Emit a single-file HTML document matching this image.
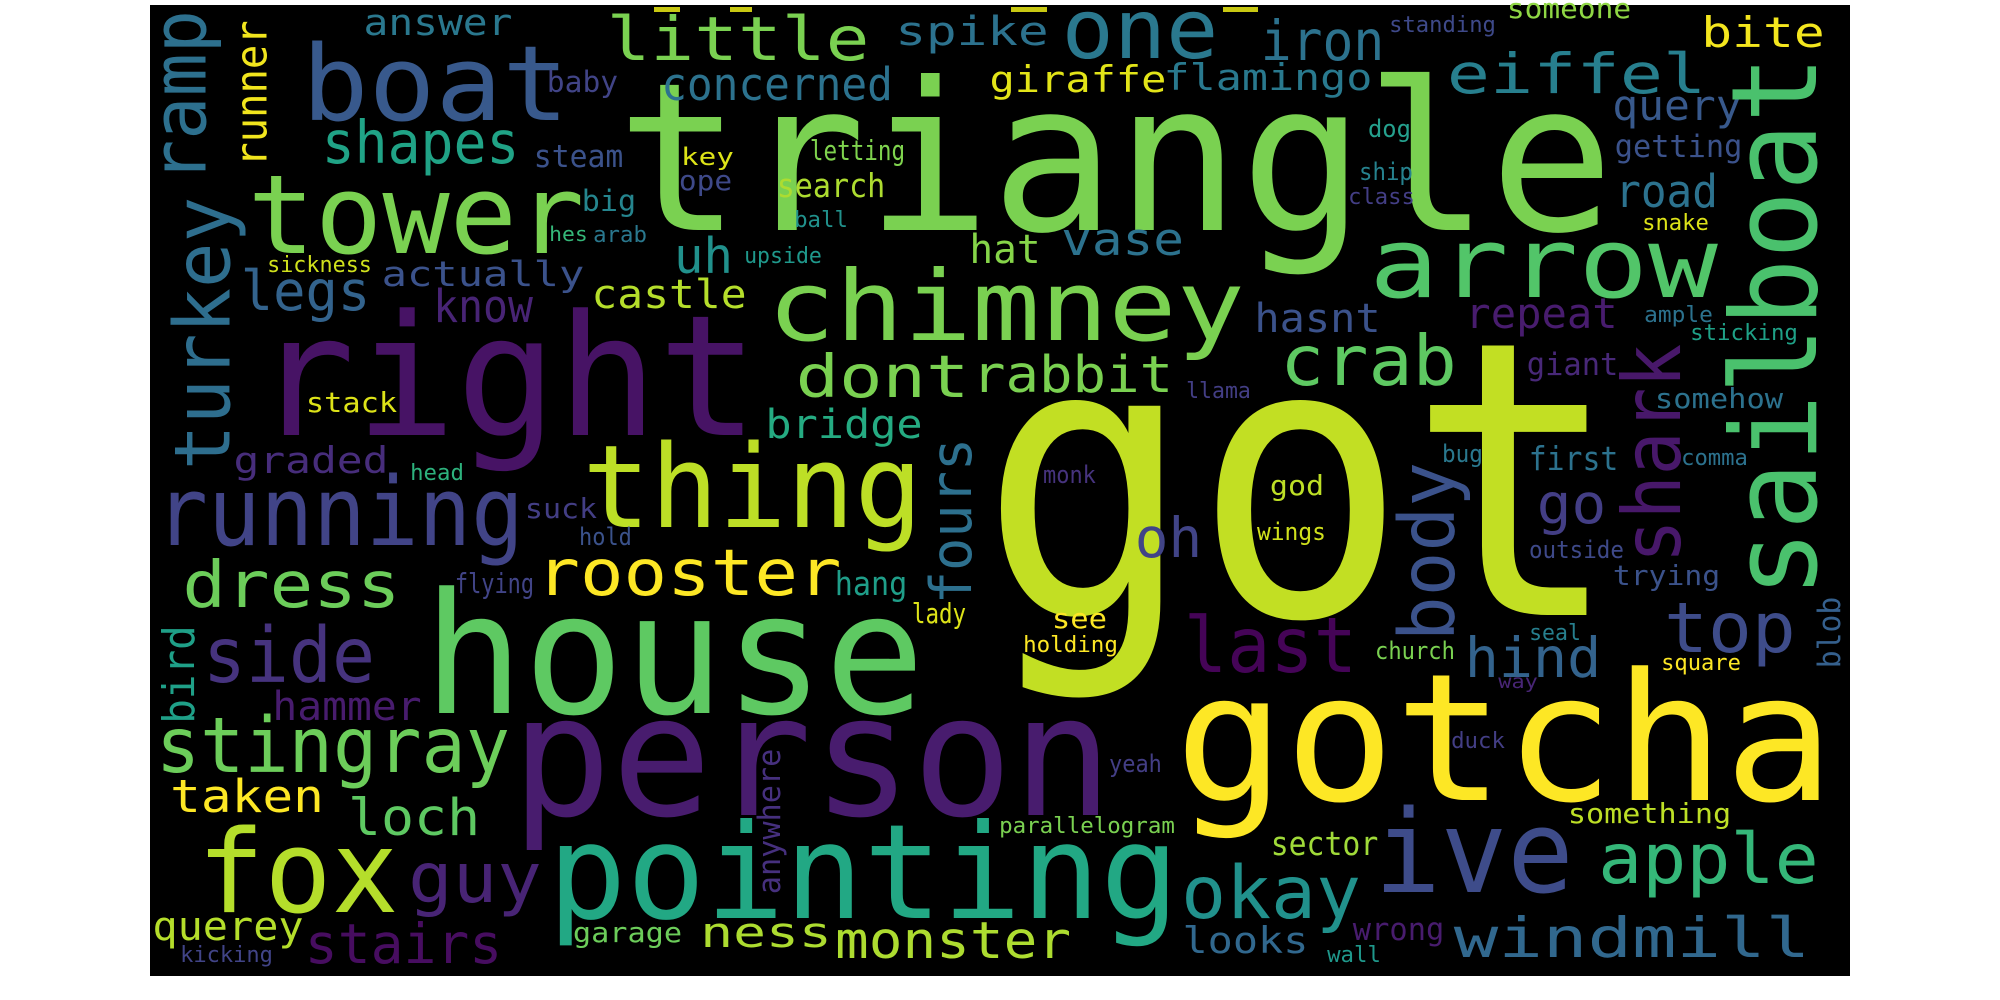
<!DOCTYPE html>
<html><head><meta charset="utf-8"><title>Word cloud</title>
<style>
html,body{margin:0;padding:0;background:#fff;}
svg{display:block;}
text{font-family:"DejaVu Sans Mono","Liberation Mono",monospace;}
</style></head>
<body>
<svg id="cloud" width="2000" height="1000" viewBox="0 0 2000 1000" xmlns="http://www.w3.org/2000/svg">
<rect x="150" y="5" width="1700" height="971" fill="#000"/>
<rect x="654" y="7" width="26" height="5" fill="#c8c812"/>
<rect x="730" y="7" width="22" height="5" fill="#c8c812"/>
<rect x="1011" y="7" width="36" height="5" fill="#c8c812"/>
<rect x="1223" y="7" width="35" height="5" fill="#c8c812"/>
</svg>
<script>
// horizontal words: text, inkLeft, inkRight, baseline, xHeight, color
const words = [
["triangle",625,1606,230,113,"#7ad151"],["got",995,1606,615,210,"#c2df23"],
["right",261,752,435,92,"#471365"],["house",430,918,713,92,"#5ec962"],
["person",518,1106,815,92,"#481c6e"],["gotcha",1182,1827,800,97,"#fde725"],
["pointing",553,1174,918,72,"#22a884"],["fox",202,394,912,63,"#b5de2b"],
["chimney",771,1241,340,53,"#7ad151"],["thing",587,918,527,63,"#bddf26"],
["running",159,520,545,52,"#414487"],["boat",306,565,120,57,"#38598c"],
["tower",252,580,253,60,"#7ad151"],["arrow",1373,1714,297,53,"#52c569"],
["dress",185,398,607,35,"#6ccd5a"],["rooster",539,839,595,35,"#fde725"],
["stingray",159,507,772,42,"#6ccd5a"],["side",206,372,682,42,"#46337e"],
["ive",1379,1569,892,63,"#3e4c8a"],["apple",1601,1816,883,38,"#35b779"],
["windmill",1456,1808,957,30,"#31688e"],["top",1667,1793,652,38,"#3e4c8a"],
["last",1187,1354,672,42,"#450457"],["hind",1467,1599,677,30,"#33638d"],
["crab",1283,1454,385,38,"#5ec962"],["rabbit",974,1171,392,28,"#7ad151"],
["dont",798,967,397,32,"#7ad151"],["okay",1184,1358,918,40,"#21918c"],
["guy",411,539,902,38,"#482475"],["stairs",307,500,963,30,"#470d60"],
["loch",350,478,835,28,"#5ec962"],["taken",172,322,812,25,"#fde725"],
["monster",837,1069,958,28,"#addc30"],["ness",702,830,947,23,"#addc30"],
["eiffel",1449,1704,93,30,"#277f8e"],["one",1065,1215,58,45,"#2a788e"],
["little",609,867,60,33,"#7ad151"],["iron",1263,1382,60,30,"#2c728e"],
["bite",1703,1823,47,23,"#f4e61e"],["shapes",324,517,163,32,"#20a386"],
["legs",243,368,310,30,"#33638d"],["actually",383,583,286,19,"#3b528b"],
["castle",593,745,308,22,"#b5de2b"],["know",435,531,322,25,"#482475"],
["graded",235,387,473,20,"#472d7b"],["bridge",767,921,438,22,"#25ab82"],
["oh",1137,1200,557,30,"#414487"],["go",1539,1604,523,30,"#433e85"],
["vase",1063,1182,255,25,"#2c728e"],["hat",971,1039,263,22,"#86d549"],
["uh",676,731,273,27,"#21918c"],["hasnt",1256,1379,332,22,"#3b528b"],
["repeat",1467,1616,328,23,"#481c6e"],["road",1617,1716,207,25,"#2c728e"],
["query",1614,1740,120,23,"#38598c"],["getting",1616,1741,157,17,"#3b528b"],
["concerned",663,891,100,25,"#2c728e"],["spike",897,1047,45,22,"#2c728e"],
["giraffe",991,1165,92,20,"#e2e418"],["flamingo",1165,1371,90,20,"#29798e"],
["answer",365,511,35,20,"#2a788e"],["hammer",274,420,720,22,"#481c6e"],
["querey",154,302,940,22,"#b5de2b"],["looks",1184,1307,953,20,"#31688e"],
["hang",836,906,595,18,"#1f9e89"],["trying",1614,1719,585,15,"#3b528b"],
["first",1530,1617,470,18,"#2c728e"],["giant",1528,1617,375,17,"#482878"],
["search",778,884,197,18,"#addc30"],["sector",1272,1377,855,18,"#a0da39"],
["something",1569,1730,823,15,"#bddf26"],["steam",535,622,167,17,"#3b528b"],
["baby",548,617,92,16,"#414487"],["big",583,635,211,16,"#25858e"],
["key",682,733,165,13,"#dde318"],["ope",680,731,190,15,"#3e4989"],
["letting",811,904,160,15,"#7fd34e"],["ball",795,847,227,12,"#21918c"],
["upside",745,821,263,12,"#1f988b"],["stack",307,396,412,15,"#dde318"],
["head",411,463,480,12,"#2db27d"],["sickness",268,371,272,12,"#d0e11c"],
["hes",550,587,241,11,"#35b779"],["arab",594,646,242,12,"#2a788e"],
["suck",526,596,518,15,"#433e85"],["hold",580,631,545,13,"#3b528b"],
["flying",456,533,593,15,"#414487"],["lady",913,965,623,15,"#dde318"],
["garage",574,681,942,15,"#6ccd5a"],["kicking",181,272,962,12,"#414487"],
["yeah",1110,1161,772,13,"#433e85"],["parallelogram",1000,1174,833,12,"#7ad151"],
["wrong",1354,1443,940,17,"#481c6e"],["wall",1328,1380,962,12,"#1f988b"],
["standing",1390,1495,32,12,"#3e4989"],["someone",1508,1630,18,15,"#8fd744"],
["dog",1369,1410,137,13,"#25a18e"],["ship",1360,1412,180,13,"#26828e"],
["class",1349,1414,204,12,"#433e85"],["snake",1643,1708,230,12,"#dde318"],
["ample",1645,1712,322,12,"#2c728e"],["sticking",1691,1797,340,12,"#1fa187"],
["somehow",1656,1782,408,15,"#2c728e"],["bug",1443,1482,462,13,"#2a788e"],
["comma",1682,1747,465,12,"#2c728e"],["llama",1187,1250,398,12,"#433e85"],
["monk",1044,1095,483,13,"#46337e"],["god",1271,1323,495,15,"#bddf26"],
["wings",1258,1325,540,13,"#d0e11c"],["outside",1530,1623,558,13,"#3e4989"],
["see",1053,1106,628,15,"#fde725"],["holding",1024,1117,652,12,"#fde725"],
["church",1376,1454,659,13,"#7ad151"],["seal",1530,1580,640,12,"#277f8e"],
["way",1499,1537,688,10,"#482575"],["square",1662,1740,670,12,"#fde725"],
["duck",1452,1504,748,12,"#433e85"]
];
// vertical words (read bottom to top): text, baselineX, bottomY, topY, xHeight, color
const vwords = [
["ramp",205.6,180,13,41,"#2d708e"],["runner",266.7,165,22,24,"#f1e51d"],
["turkey",229.6,467,200,42.6,"#2e6e8e"],["sailboat",1816,593,60,65,"#4ac16d"],
["shark",1680,560,347,44,"#48186a"],["body",1454,638,465,42,"#3b528b"],
["fours",971,602,440,31,"#2d708e"],["bird",194,722,627,24,"#1fa088"],
["anywhere",780,893,750,17,"#46307e"],["blob",1840,667,598,17,"#35608d"]
];
const NS = "http://www.w3.org/2000/svg";
const svg = document.getElementById("cloud");
const XH = 0.547;
words.forEach(w => {
  const fs = w[4] / XH;
  const t = document.createElementNS(NS, "text");
  
  
  t.setAttribute("x", (w[1] - 0.04 * fs).toFixed(1));
  t.setAttribute("y", w[3]);
  t.setAttribute("font-size", fs.toFixed(1));
  t.setAttribute("fill", w[5]);
  t.setAttribute("textLength", ((w[2] - w[1]) + 0.08 * fs).toFixed(1));
  t.setAttribute("lengthAdjust", "spacingAndGlyphs");
  t.textContent = w[0];
  svg.appendChild(t);
});
vwords.forEach(w => {
  const fs = w[4] / XH;
  const t = document.createElementNS(NS, "text");
  
  
  t.setAttribute("transform", "translate(" + w[1] + "," + w[2] + ") rotate(-90)");
  t.setAttribute("x", (-0.04 * fs).toFixed(1));
  t.setAttribute("y", 0);
  t.setAttribute("font-size", fs.toFixed(1));
  t.setAttribute("fill", w[5]);
  t.setAttribute("textLength", ((w[2] - w[3]) + 0.08 * fs).toFixed(1));
  t.setAttribute("lengthAdjust", "spacingAndGlyphs");
  t.textContent = w[0];
  svg.appendChild(t);
});
</script>
</body></html>
